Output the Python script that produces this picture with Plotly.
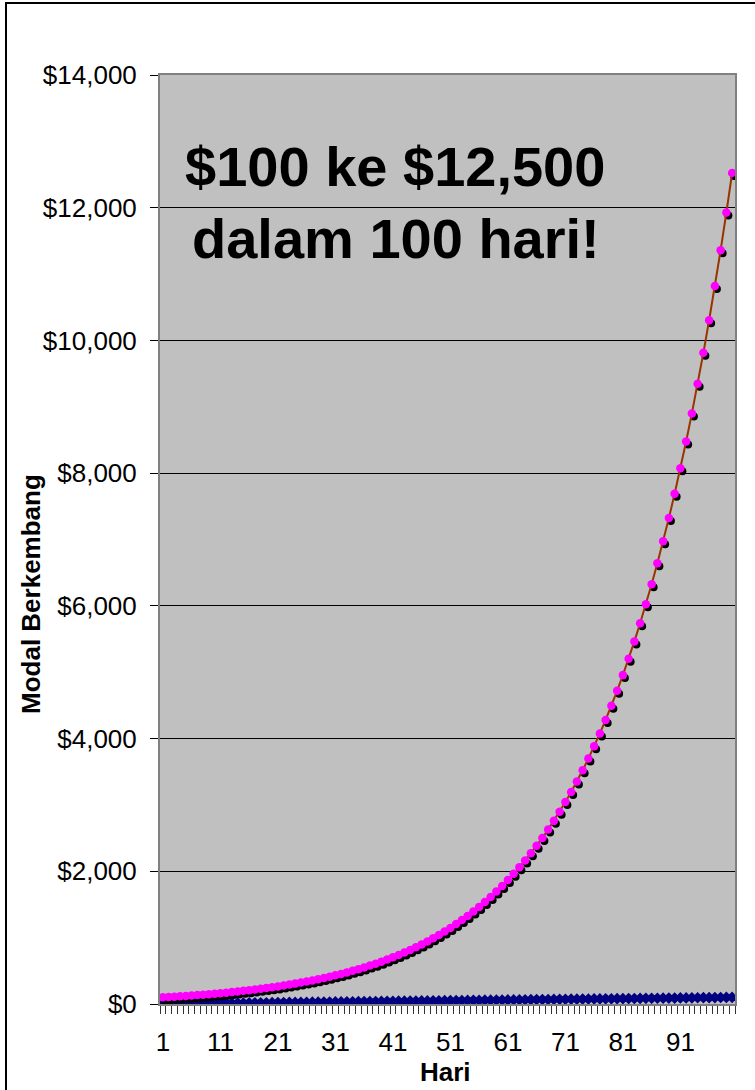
import plotly.graph_objects as go

# Day numbers (x categories; also plotted as a series in the original chart)
days = [1, 2, 3, 4, 5, 6, 7, 8, 9, 10, 11, 12, 13, 14, 15, 16, 17, 18, 19, 20,
        21, 22, 23, 24, 25, 26, 27, 28, 29, 30, 31, 32, 33, 34, 35, 36, 37, 38, 39, 40,
        41, 42, 43, 44, 45, 46, 47, 48, 49, 50, 51, 52, 53, 54, 55, 56, 57, 58, 59, 60,
        61, 62, 63, 64, 65, 66, 67, 68, 69, 70, 71, 72, 73, 74, 75, 76, 77, 78, 79, 80,
        81, 82, 83, 84, 85, 86, 87, 88, 89, 90, 91, 92, 93, 94, 95, 96, 97, 98, 99, 100]

# Growing capital (Modal Berkembang)
capital = [100, 105, 110.25, 115.76, 121.55, 127.63, 134.01, 140.71, 147.75, 155.13,
           162.89, 171.03, 179.59, 188.56, 197.99, 207.89, 218.29, 229.2, 240.66, 252.7,
           265.33, 278.6, 292.53, 307.15, 322.51, 338.64, 355.57, 373.35, 392.01, 411.61,
           432.19, 453.8, 476.49, 500.32, 525.33, 551.6, 579.18, 608.14, 638.55, 670.48,
           704.0, 739.2, 776.16, 814.97, 855.72, 898.5, 943.43, 990.6, 1040.13, 1092.13,
           1146.74, 1204.08, 1264.28, 1327.49, 1393.87, 1463.56, 1536.74, 1613.58, 1694.26, 1778.97,
           1867.92, 1961.31, 2059.38, 2162.35, 2270.47, 2383.99, 2503.19, 2628.35, 2759.77, 2897.76,
           3042.64, 3194.78, 3354.52, 3522.24, 3698.36, 3883.27, 4077.44, 4281.31, 4495.37, 4720.14,
           4956.15, 5203.96, 5464.15, 5737.36, 6024.23, 6325.44, 6641.71, 6973.8, 7322.49, 7688.61,
           8073.04, 8476.69, 8900.53, 9345.55, 9812.83, 10303.47, 10818.65, 11359.58, 11927.56, 12523.94]

# Day-number series (blue diamonds along the bottom)
day_series = [1, 2, 3, 4, 5, 6, 7, 8, 9, 10, 11, 12, 13, 14, 15, 16, 17, 18, 19, 20,
              21, 22, 23, 24, 25, 26, 27, 28, 29, 30, 31, 32, 33, 34, 35, 36, 37, 38, 39, 40,
              41, 42, 43, 44, 45, 46, 47, 48, 49, 50, 51, 52, 53, 54, 55, 56, 57, 58, 59, 60,
              61, 62, 63, 64, 65, 66, 67, 68, 69, 70, 71, 72, 73, 74, 75, 76, 77, 78, 79, 80,
              81, 82, 83, 84, 85, 86, 87, 88, 89, 90, 91, 92, 93, 94, 95, 96, 97, 98, 99, 100]

x_tick_vals = [1, 11, 21, 31, 41, 51, 61, 71, 81, 91]
x_tick_text = ["1", "11", "21", "31", "41", "51", "61", "71", "81", "91"]
y_tick_vals = [0, 2000, 4000, 6000, 8000, 10000, 12000, 14000]
y_tick_text = ["$0", "$2,000", "$4,000", "$6,000", "$8,000", "$10,000", "$12,000", "$14,000"]

FONT = "Liberation Sans, Arial, Helvetica, sans-serif"

W, H = 755, 1090
L, R, T, B = 160, 20, 75, 86
PW, PH = W - L - R, H - T - B

XR = [0.5, 100.5]
YR = [0, 14000]
# shadow offset in pixels (right, down)
SDX, SDY = 2.0, 3.0
sx = SDX * (XR[1] - XR[0]) / PW
sy = SDY * (YR[1] - YR[0]) / PH

fig = go.Figure()

# Day-number series (base axes)
fig.add_trace(go.Scatter(
    x=days, y=day_series, mode="lines+markers",
    line=dict(color="#000080", width=2),
    marker=dict(symbol="diamond", size=9, color="#000080"),
    showlegend=False))

# Shadow of the capital series (overlaid axes shifted by a few pixels)
fig.add_trace(go.Scatter(
    x=days, y=capital, mode="markers",
    marker=dict(symbol="circle", size=8, color="black"),
    xaxis="x2", yaxis="y2", hoverinfo="skip", showlegend=False))

# Capital line (top layer axes, same ranges as the visible axes)
fig.add_trace(go.Scatter(
    x=days, y=capital, mode="lines",
    line=dict(color="#993300", width=2),
    xaxis="x3", yaxis="y3", showlegend=False))

# Capital markers
fig.add_trace(go.Scatter(
    x=days, y=capital, mode="markers",
    marker=dict(symbol="circle", size=8.5, color="#FF00FF"),
    xaxis="x3", yaxis="y3", showlegend=False))

fig.update_layout(
    width=W, height=H,
    margin=dict(l=L, r=R, t=T, b=B),
    paper_bgcolor="white",
    plot_bgcolor="#C0C0C0",
    font=dict(family=FONT, size=26, color="black"),
    showlegend=False,
    xaxis=dict(
        range=XR, tickmode="array", tickvals=x_tick_vals, ticktext=x_tick_text,
        ticks="", showgrid=False, zeroline=False,
        showline=True, linecolor="#808080", linewidth=2, mirror=True,
        tickfont=dict(size=26, family=FONT, color="black"),
        ticklabelstandoff=14,
        minor=dict(ticks="outside", ticklen=8, tick0=0.5, dtick=1,
                   tickcolor="#333333", tickwidth=1, showgrid=False),
    ),
    yaxis=dict(
        range=YR, tickmode="array", tickvals=y_tick_vals, ticktext=y_tick_text,
        ticks="outside", ticklen=8, tickcolor="black", tickwidth=1,
        showgrid=True, gridcolor="#000000", gridwidth=1, zeroline=False,
        showline=True, linecolor="#808080", linewidth=2, mirror=True,
        tickfont=dict(size=26, family=FONT, color="black"),
        ticklabelstandoff=8,
    ),
    xaxis2=dict(range=[XR[0] - sx, XR[1] - sx], overlaying="x", visible=False),
    yaxis2=dict(range=[YR[0] + sy, YR[1] + sy], overlaying="y", visible=False),
    xaxis3=dict(range=XR, overlaying="x", visible=False),
    yaxis3=dict(range=YR, overlaying="y", visible=False),
)

fig.add_annotation(
    text="$100 ke $12,500", xref="paper", yref="paper",
    x=0.4087, y=0.901, xanchor="center", yanchor="middle", showarrow=False,
    font=dict(family=FONT, size=56, color="black", weight="bold"))
fig.add_annotation(
    text="dalam 100 hari!", xref="paper", yref="paper",
    x=0.4104, y=0.8245, xanchor="center", yanchor="middle", showarrow=False,
    font=dict(family=FONT, size=56, color="black", weight="bold"))

# Axis titles
fig.add_annotation(
    text="Modal Berkembang", xref="paper", yref="paper",
    x=(30.5 - L) / PW, y=(1004 - 594.5) / PH, xanchor="center", yanchor="middle",
    textangle=-90, showarrow=False,
    font=dict(family=FONT, size=26, color="black", weight="bold"))
fig.add_annotation(
    text="Hari", xref="paper", yref="paper",
    x=(445.7 - L) / PW, y=(1004 - 1072) / PH, xanchor="center", yanchor="middle",
    showarrow=False,
    font=dict(family=FONT, size=26, color="black", weight="bold"))

# Outer chart border (right/bottom edges fall outside the canvas)
fig.add_shape(type="rect", xref="paper", yref="paper",
              x0=(6 - L) / PW, x1=(770 - L) / PW,
              y0=(1004 - 1100) / PH, y1=(1004 - 3) / PH,
              line=dict(color="black", width=2), fillcolor="rgba(0,0,0,0)",
              layer="above")

fig.write_html("out.html", config={"displayModeBar": False},
               post_script="document.body.style.margin='0';")
